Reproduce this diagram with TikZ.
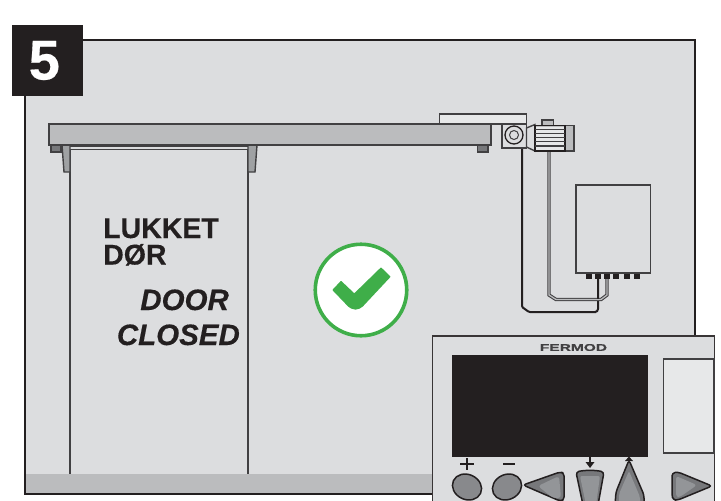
\documentclass[tikz,border=0pt]{standalone}
\usepackage{fontspec}
\setmainfont[BoldFeatures={FakeBold=0.35},BoldItalicFeatures={FakeBold=0.35}]{Liberation Sans}
\newfontfamily\brandfont[FakeStretch=1.58,FakeBold=0.5]{Liberation Sans Bold}
\definecolor{panelg}{HTML}{DCDDDF}
\definecolor{railg}{HTML}{BBBCBE}
\definecolor{lightg}{HTML}{E7E8E9}
\definecolor{ink}{HTML}{231F20}
\definecolor{line}{HTML}{414042}
\definecolor{midg}{HTML}{77787B}
\definecolor{softg}{HTML}{939598}
\definecolor{okgreen}{HTML}{3FAE49}
\tikzset{
  part/.style={draw=line,line width=1.4pt,line join=miter},
  lbl/.style={anchor=base west,inner sep=0pt,font=\bfseries\fontsize{28.5}{28.5}\selectfont,text=ink},
  lblit/.style={anchor=base east,inner sep=0pt,font=\bfseries\itshape\fontsize{29.5}{29.5}\selectfont,text=ink},
  term/.style={fill=ink,draw=none},
  btn/.style={draw=ink,line width=1.5pt,fill=midg,line join=round},
  btnin/.style={fill=softg,draw=none},
}
\begin{document}
\begin{tikzpicture}[x=1pt,y=-1pt]
\useasboundingbox (0,0) rectangle (721,501);
% main panel
\fill[white] (0,0) rectangle (721,501);
\draw[fill=panelg,draw=ink,line width=2pt] (24.5,39.5) rectangle (695,494);
\fill[railg] (25.5,474) rectangle (694,492.8);
% door
\draw[line,line width=1.5pt] (70,149) -- (70,474);
\draw[line,line width=1.5pt] (248,149) -- (248,474);
\draw[line,line width=1.3pt] (70,149.5) -- (248,149.5);
\draw[line,line width=1.1pt] (70,146) -- (248,146);
% feet and brackets
\draw[part,fill=midg] (51,145) rectangle (61,152);
\draw[part,fill=midg] (477.5,145) rectangle (488,152);
\draw[part,fill=softg!70!railg] (62,145) -- (70,145) -- (70,172) -- (64,172) -- cycle;
\draw[part,fill=softg!70!railg] (248,145) -- (257,145) -- (255,172) -- (248,172) -- cycle;
% top plate and rail
\draw[part,fill=lightg] (439.5,114) rectangle (526.5,124);
\draw[part,fill=railg] (49,124) rectangle (491,145);
% cables
\draw[ink,line width=2pt,rounded corners=1pt] (522,148) -- (522,307) -- (529,312) -- (595,312) [rounded corners=3pt] -- (598,312) -- (598,277);
\draw[line,line width=3.4pt] (549,151) -- (549,295) -- (556,299.5) -- (601,299.5) -- (607,295) -- (607,277);
\draw[railg,line width=1.3pt] (549,151) -- (549,295) -- (556,299.5) -- (601,299.5) -- (607,295) -- (607,277);
\draw[ink,line width=2pt] (598,277) -- (598,299);
% gearbox and motor
\draw[part,fill=panelg] (502,124) rectangle (526.5,148);
\node[circle,draw=ink,line width=1.3pt,minimum size=18pt,inner sep=0pt] (wheel) at (514,135) {};
\node[circle,draw=line,line width=1pt,minimum size=9pt,inner sep=0pt] (hub) at (514,135) {};
\draw[part,fill=panelg] (526.5,128) -- (535,124.5) -- (535,151) -- (526.5,147) -- cycle;
\draw[part,fill=railg] (542,120) rectangle (553.5,125.5);
\draw[part,fill=railg] (535,125.5) rectangle (574,151);
\fill[lightg] (536,126.5) rectangle (565,150);
\draw[ink,line width=1.4pt] (535,125.5) rectangle (565,151);
\foreach \y in {129.5,133.5,137.5,141.8,146} \draw[line,line width=1.2pt] (535,\y) -- (565,\y);
% control box
\draw[line,line width=1.1pt,fill=panelg] (576,185) rectangle (650.5,273);
\foreach \x in {586,595,604,613,624,634} \fill[term] (\x,273.5) rectangle ++(6,5);
% check mark
\node[circle,draw=okgreen,fill=white,line width=3.6pt,minimum size=91.5pt,inner sep=0pt] (okring) at (361,290) {};
\fill[okgreen,rounded corners=0.6pt] (332.3,290) -- (341,280.7) -- (354.3,293.3) -- (381,267.3) -- (390.7,276.7) [rounded corners=4pt] -- (360,309.5) -- (351,309.5) [rounded corners=0.6pt] -- cycle;
% labels
\node[lbl] (no1) at (103,238) {LUKKET};
\node[lbl] (no2) at (103,264.5) {DØR};
\node[lblit] (en1) at (229,310) {DOOR};
\node[lblit] (en2) at (240,345) {CLOSED};
% number tab
\fill[ink] (12,25) rectangle (83,96);
\node[lbl,text=white,font=\bfseries\fontsize{56}{56}\selectfont] (num) at (28.5,79.5) {5};
% controller
\begin{scope}
\clip (0,0) rectangle (721,501);
\draw[draw=ink!90,line width=1.5pt,fill=panelg] (432.5,336) rectangle (714.6,503);
\fill[ink] (452,355) rectangle (648,457);
\draw[line,line width=1.1pt,fill=lightg] (663.5,359) rectangle (714,453);
\node[inner sep=0pt,text=line,font=\brandfont\fontsize{9.8}{10}\selectfont] (brand) at (573.5,347.5) {FERMOD};
% plus minus
\draw[ink,line width=1.5pt] (460,464) -- (474,464);
\draw[ink,line width=1.5pt] (467,458) -- (467,470);
\draw[ink,line width=2.2pt] (503,464) -- (515,464);
% small arrows
\draw[ink,line width=1.6pt] (590,457) -- (590,463);
\fill[ink] (585.5,462) -- (594.5,462) -- (590,468) -- cycle;
\fill[ink] (625,461) -- (633,461) -- (629,456.5) -- cycle;
% buttons
\draw[btn,fill=softg!60!midg,rotate around={-25:(467,487)}] (467,487) ellipse (15 and 12.5);
\draw[btn,fill=softg!60!midg,rotate around={25:(507,487)}] (507,487) ellipse (15 and 12.5);
\draw[btn,rounded corners=3pt] (523,485) -- (560,472) -- (564,473) -- (564,500) -- (560,501) -- cycle;
\fill[btnin,rounded corners=3pt] (538,486) -- (559,476) -- (561,498) -- (553,498) -- cycle;
\draw[btn,rounded corners=3pt] (576,472) .. controls (585,470) and (595,470) .. (604,472) -- (598,505) -- (583,505) -- cycle;
\fill[btnin,rounded corners=2pt] (580,476) -- (600,476) -- (596,505) -- (586,505) -- cycle;
\draw[btn,rounded corners=3pt] (629,460) -- (644,495) -- (644,505) -- (615,505) -- (616,492) -- cycle;
\fill[btnin,rounded corners=2pt] (629,471) -- (640,497) -- (640,505) -- (619,505) -- (619,494) -- cycle;
\draw[btn,rounded corners=3pt] (672,473) -- (678,472) -- (712,486) -- (678,500) -- (673,500) -- (672,495) -- cycle;
\fill[btnin,rounded corners=3pt] (676,476) -- (697,485) -- (680,497) -- (676,497) -- cycle;
\end{scope}
\end{tikzpicture}
\end{document}
